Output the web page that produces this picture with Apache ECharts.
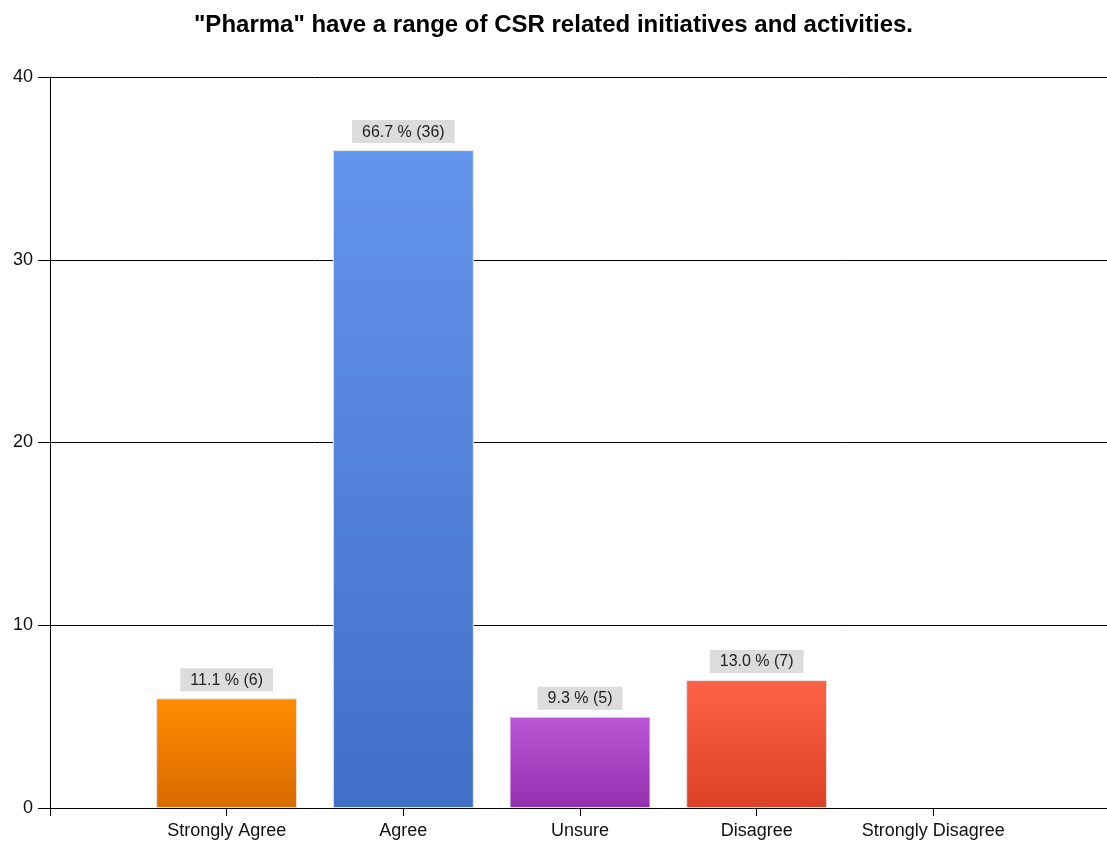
<!DOCTYPE html>
<html>
<head>
<meta charset="utf-8">
<script src="https://cdn.jsdelivr.net/npm/echarts@6/dist/echarts.min.js"></script>
<style>html,body{margin:0;padding:0;background:#fff;}#c{width:1107px;height:844px;}</style>
</head>
<body>
<div id="c"></div>
<script>
const titleText = '"Pharma" have a range of CSR related initiatives and activities.';
const categories = ['Strongly Agree', 'Agree', 'Unsure', 'Disagree', 'Strongly Disagree'];
const counts = [6, 36, 5, 7, 0];
const percents = ['11.1', '66.7', '9.3', '13.0', '0.0'];
const topColors = ['#FF8C00', '#6495ED', '#BA55D3', '#FF6347', '#999999'];
const bottomColors = ['#DA6A00', '#3F6FC6', '#9530B0', '#DB4125', '#777777'];
const yTicks = [0, 10, 20, 30, 40];

const axisCats = [''].concat(categories).concat(['']);
const barData = [{value: '-'}];
categories.forEach((c, i) => {
  if (counts[i] > 0) {
    barData.push({
      value: counts[i],
      pct: percents[i],
      itemStyle: {
        color: new echarts.graphic.LinearGradient(0, 0, 0, 1, [
          {offset: 0, color: topColors[i]},
          {offset: 1, color: bottomColors[i]}
        ])
      }
    });
  } else {
    barData.push({value: '-'});
  }
});
barData.push({value: '-'});

const chart = echarts.init(document.getElementById('c'), null, {renderer: 'canvas'});
chart.setOption({
  animation: false,
  title: {
    text: titleText,
    left: 'center',
    top: 8,
    textStyle: {fontFamily: 'Liberation Sans, Arial', fontWeight: 'bold', fontSize: 24, color: '#000'}
  },
  grid: {left: 50, width: 1060, top: 77, bottom: 36, containLabel: false, outerBoundsMode: 'none'},
  xAxis: {
    type: 'category',
    data: axisCats,
    boundaryGap: false,
    axisLine: {lineStyle: {color: '#000', width: 1}},
    axisTick: {show: true, length: 8, interval: 0, lineStyle: {color: '#000'}},
    axisLabel: {fontFamily: 'Liberation Sans, Arial', fontSize: 18, color: '#111', margin: 14, interval: 0},
    splitLine: {show: false}
  },
  yAxis: {
    type: 'value',
    min: yTicks[0],
    max: yTicks[yTicks.length - 1],
    interval: 10,
    axisLine: {show: true, lineStyle: {color: '#000', width: 1}},
    axisTick: {show: true, length: 12, lineStyle: {color: '#000'}},
    axisLabel: {fontFamily: 'Liberation Sans, Arial', fontSize: 18, color: '#111', margin: 17},
    splitLine: {show: true, lineStyle: {color: '#000', width: 1}}
  },
  series: [{
    type: 'bar',
    data: barData,
    barWidth: 141,
    itemStyle: {borderColor: '#E6E6E6', borderWidth: 1},
    label: {
      show: true,
      position: 'top',
      distance: 7,
      fontFamily: 'Liberation Sans, Arial',
      fontSize: 16,
      color: '#222',
      backgroundColor: '#DCDCDC',
      padding: [4, 10, 3, 10],
      formatter: p => p.data.pct + ' % (' + p.value + ')'
    }
  }]
});
</script>
</body>
</html>
